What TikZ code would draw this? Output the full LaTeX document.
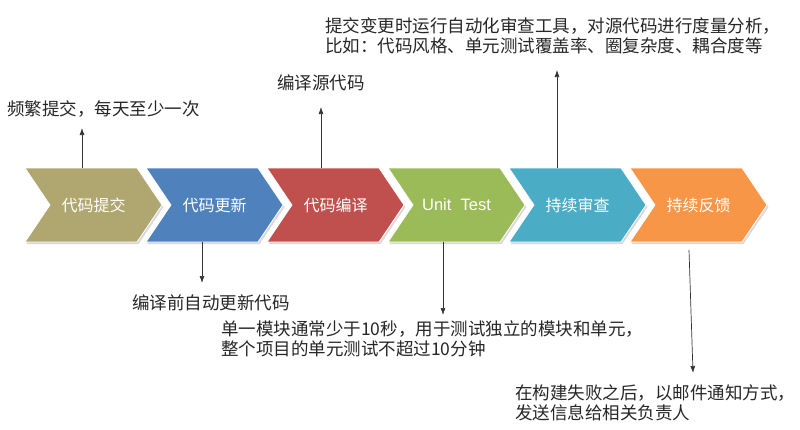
\documentclass[tikz,border=0pt]{standalone}
\usepackage{fontspec}
\newfontfamily\cjk{Noto Sans CJK SC}
\newfontfamily\latinfont{Liberation Sans}
\usetikzlibrary{shapes.symbols}
\usetikzlibrary{shadows}
\usetikzlibrary{arrows.meta}

\definecolor{stepolive}{RGB}{176,166,112}
\definecolor{stepblue}{RGB}{79,129,189}
\definecolor{stepred}{RGB}{192,80,77}
\definecolor{stepgreen}{RGB}{155,187,89}
\definecolor{stepteal}{RGB}{75,172,198}
\definecolor{steporange}{RGB}{247,150,70}

\tikzset{
  chevron/.style={signal, signal to=east, signal from=west,
    signal pointer angle=112, minimum width=137pt, minimum height=74pt,
    inner sep=0pt, draw=white, line width=0.8pt, text=white,
    font=\cjk\fontsize{16}{18}\selectfont,
    drop shadow={shadow xshift=1.5pt, shadow yshift=-2pt, opacity=0.3}},
  note/.style={anchor=west, align=left, inner sep=0pt,
    font=\cjk\fontsize{17.5}{20.5}\selectfont, text=black!85},
  note arrow/.style={-{Latex[length=7pt,width=5pt]}, line width=0.7pt, draw=black!80}
}

\begin{document}
\begin{tikzpicture}[x=1pt,y=-1pt]
  \useasboundingbox (0,0) rectangle (800,429);
  % the six steps
  \node[chevron, fill=stepolive]  (commit)   at (93.5,205)  {代码提交};
  \node[chevron, fill=stepblue]   (update)   at (214.5,205) {代码更新};
  \node[chevron, fill=stepred]    (compile)  at (335.5,205) {代码编译};
  \node[chevron, fill=stepgreen]  (test)     at (456.5,205) {\latinfont\fontsize{16.5}{18}\selectfont Unit~ Test};
  \node[chevron, fill=stepteal]   (review)   at (577.5,205) {持续审查};
  \node[chevron, fill=steporange] (feedback) at (698.5,205) {持续反馈};

  % notes above
  \node[note] (commit note)  at (7,109)  {频繁提交，每天至少一次};
  \node[note] (compile note) at (277,83) {编译源代码};
  \node[note] (review note)  at (325,36) {提交变更时运行自动化审查工具，对源代码进行度量分析，\\比如：代码风格、单元测试覆盖率、圈复杂度、耦合度等};
  % notes below
  \node[note] (update note)   at (132,303) {编译前自动更新代码};
  \node[note] (test note)     at (221,339) {单一模块通常少于10秒，用于测试独立的模块和单元，\\整个项目的单元测试不超过10分钟};
  \node[note] (feedback note) at (515,403) {在构建失败之后，以邮件通知方式，\\发送信息给相关负责人};

  % arrows
  \coordinate (commit tip)   at (82,128);
  \coordinate (compile tip)  at (321,107);
  \coordinate (review tip)   at (557,70);
  \coordinate (update tip)   at (202,283);
  \coordinate (test tip)     at (443,315);
  \coordinate (feedback top) at (689,250);
  \coordinate (feedback tip) at (693,373);
  \draw[note arrow] (commit.north -| commit tip) -- (commit tip);
  \draw[note arrow] (compile.north -| compile tip) -- (compile tip);
  \draw[note arrow] (review.north -| review tip) -- (review tip);
  \draw[note arrow] (update.south -| update tip) -- (update tip);
  \draw[note arrow] (test.south -| test tip) -- (test tip);
  \draw[note arrow] (feedback top) -- (feedback tip);
\end{tikzpicture}
\end{document}
